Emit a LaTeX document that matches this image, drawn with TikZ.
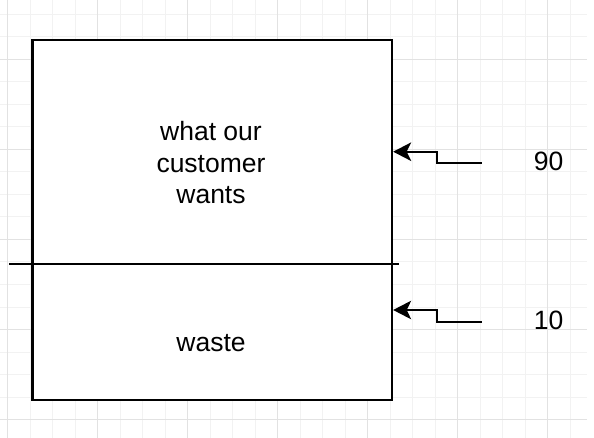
\documentclass[tikz,border=0pt]{standalone}
\usepackage{fontspec}
\setmainfont{Liberation Sans}
\usetikzlibrary{arrows.meta}
\definecolor{gridminor}{HTML}{F2F2F2}
\definecolor{gridmajor}{HTML}{E2E2E2}
\begin{document}
\begin{tikzpicture}[x=1pt,y=-1pt,
  boxstyle/.style={draw=black, line width=2.3pt, minimum width=359.5pt, minimum height=359.4pt, inner sep=0pt, fill=white},
  lbl/.style={font=\fontsize{26.5}{31.5}\selectfont, inner sep=0pt, text=black},
  feed/.style={line width=2pt, -{Stealth[length=18pt,width=18.5pt,inset=4.5pt]}},
  divider/.style={line width=2pt},
  minorline/.style={draw=gridminor, line width=1pt},
  majorline/.style={draw=gridmajor, line width=1.2pt}
  ]
\useasboundingbox (0,0) rectangle (594,438);
\fill[white] (0,0) rectangle (594,438);
% grid
\foreach \x in {7.7,30.2,52.7,75.2,97.7,120.2,142.7,165.2,187.7,210.2,232.7,255.2,277.7,300.2,322.7,345.2,367.7,390.2,412.7,435.2,457.7,480.2,502.7,525.2,547.7,570.2}
  \draw[minorline] (\x,0) -- (\x,438);
\foreach \y in {14.5,37,59.5,82,104.5,127,149.5,172,194.5,217,239.5,262,284.5,307,329.5,352,374.5,397,419.5}
  \draw[minorline] (0,\y) -- (587,\y);
\foreach \x in {7.7,97.7,187.7,277.7,367.7,457.7,547.7}
  \draw[majorline] (\x,0) -- (\x,438);
\foreach \y in {59.5,149.5,239.5,329.5,419.5}
  \draw[majorline] (0,\y) -- (587,\y);
% box
\node[boxstyle] (box) at (212.25,220) {};
% divider
\coordinate (dl) at (9.3,264.5);
\coordinate (dr) at (399.3,264.5);
\draw[divider] (dl) -- (dr);
% texts
\node[lbl, align=center] (want) at (211,163) {what our\\customer\\wants};
\node[lbl, anchor=base] (waste) at (211,351.5) {waste};
\node[lbl, anchor=base] (n90) at (548.5,170.8) {90};
\node[lbl, anchor=base] (n10) at (548.5,329.2) {10};
% arrows
\coordinate (s90) at (481.7,163.3);
\coordinate (s10) at (481.7,321.7);
\coordinate (y90) at (0,151.7);
\coordinate (y10) at (0,310);
\draw[feed] (s90) -- ++(-45,0) |- (box.east |- y90);
\draw[feed] (s10) -- ++(-45,0) |- (box.east |- y10);
\end{tikzpicture}
\end{document}
